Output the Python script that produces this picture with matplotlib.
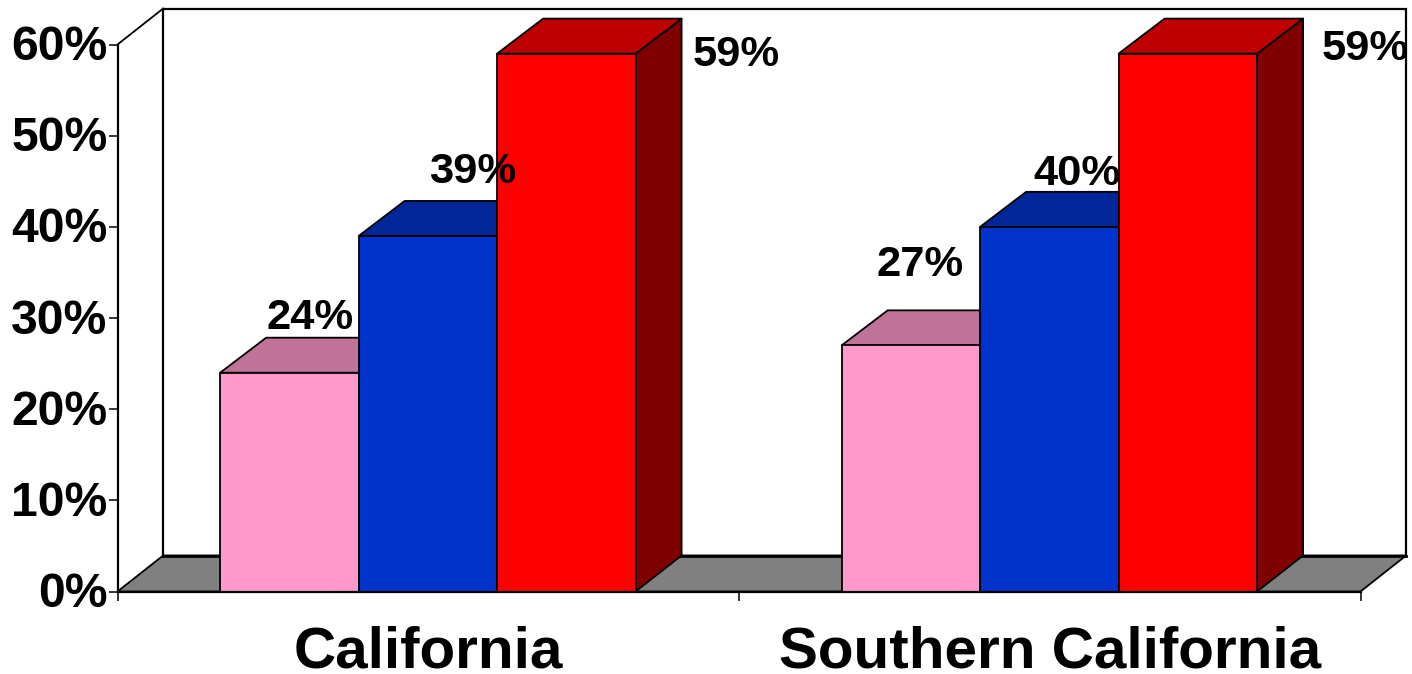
import matplotlib
matplotlib.use("Agg")
import matplotlib.pyplot as plt
from matplotlib.patches import Polygon, Rectangle
from matplotlib.transforms import ScaledTranslation

categories = ["California", "Southern California"]
series_values = [[24, 39, 59], [27, 40, 59]]
tick_labels = ["0%", "10%", "20%", "30%", "40%", "50%", "60%"]
tick_values = [0, 10, 20, 30, 40, 50, 60]
front_colors = ["#FF99CC", "#0033CC", "#FF0000"]
top_colors = ["#BF7399", "#002699", "#BF0000"]
side_colors = ["#804D66", "#001A66", "#800000"]
# label offsets from the front-top-centre of each bar, in pixels
label_offsets = [[(21, 55), (45, 64), (170, -1)], [(9, 80), (28, 53), (177, 5)]]

W, H = 1412, 674
plt.rcParams["font.family"] = ["Liberation Sans", "DejaVu Sans"]
fig = plt.figure(figsize=(W / 100, H / 100), dpi=100)

left, right, bottom, top = 117.5, 1360.5, 591.5, 44.5
ax = fig.add_axes([left / W, 1 - bottom / H, (right - left) / W, (bottom - top) / H])
ax.set_xlim(0, 2)
ax.set_ylim(0, 60)

# depth of the pseudo-3D extrusion in data units
wall_x = 45.7 / ((right - left) / 2)
depth_x = 46 / ((right - left) / 2)
depth_y = 36 / ((bottom - top) / 60)
bar_depth_y = 35 / ((bottom - top) / 60)
bar_w = 0.2228
group_start = 0.1652
edge = dict(edgecolor="black", linewidth=1.3, joinstyle="round", clip_on=False)

for s in ax.spines.values():
    s.set_visible(False)
ax.patch.set_visible(False)

# back wall, floor and left wall
ymax = tick_values[-1]
ax.add_patch(Polygon([(wall_x, depth_y), (2 + wall_x, depth_y),
                      (2 + wall_x, ymax + depth_y), (wall_x, ymax + depth_y)],
                     facecolor="white", edgecolor="black", linewidth=1.6,
                     clip_on=False, zorder=1))
ax.add_patch(Polygon([(0, 0), (2, 0), (2 + wall_x, depth_y), (wall_x, depth_y)],
                     facecolor="#808080", edgecolor="black", linewidth=1.3,
                     clip_on=False, zorder=1.5))
ax.plot([wall_x, wall_x + 2], [depth_y, depth_y], color="black", lw=2, clip_on=False, zorder=1.6)
ax.plot([0, 0], [0, ymax], color="black", lw=1.6, clip_on=False, zorder=1.6)
ax.plot([0, wall_x], [ymax, ymax + depth_y], color="black", lw=1.3, clip_on=False, zorder=1.6)

# extruded bars, painted left to right
z = 2
for c, values in enumerate(series_values):
    x0 = c + group_start
    for i, v in enumerate(values):
        x = x0 + i * bar_w
        ax.add_patch(Polygon([(x + bar_w, 0), (x + bar_w + depth_x, depth_y),
                              (x + bar_w + depth_x, v + bar_depth_y), (x + bar_w, v)],
                             facecolor=side_colors[i], zorder=z, **edge))
        ax.add_patch(Polygon([(x, v), (x + bar_w, v),
                              (x + bar_w + depth_x, v + bar_depth_y), (x + depth_x, v + bar_depth_y)],
                             facecolor=top_colors[i], zorder=z, **edge))
        ax.add_patch(Rectangle((x, 0), bar_w, v, facecolor=front_colors[i], zorder=z + 0.1, **edge))
        z += 1
        ax.annotate(f"{v}%", xy=(x + bar_w / 2, v),
                    xytext=label_offsets[c][i], textcoords="offset pixels",
                    ha="center", va="center", fontsize=31.3, fontweight="bold",
                    color="black", zorder=50, annotation_clip=False)

ax.plot([0, 2], [0, 0], color="black", lw=1.6, clip_on=False, zorder=40)

ax.set_yticks(tick_values)
ax.set_yticklabels(tick_labels, fontsize=34.6, fontweight="bold")
ax.set_xticks([0, 1, 2])
ax.set_xticklabels([])
ax.tick_params(axis="y", length=6.5, width=1.1, pad=0.7, color="black")
ax.tick_params(axis="x", length=6.5, width=1.1, color="black")
# nudge the percent labels so their digits sit level with the ticks
nudge = ScaledTranslation(0, 2 / 100, fig.dpi_scale_trans)
for lab in ax.get_yticklabels():
    lab.set_transform(lab.get_transform() + nudge)
for c, name in enumerate(categories):
    ax.annotate(name, xy=(c + 0.5, 0), xytext=(0, -61), textcoords="offset pixels",
                ha="center", va="center", fontsize=42, fontweight="bold", annotation_clip=False)

fig.savefig("out.png", dpi=100, facecolor="white")
